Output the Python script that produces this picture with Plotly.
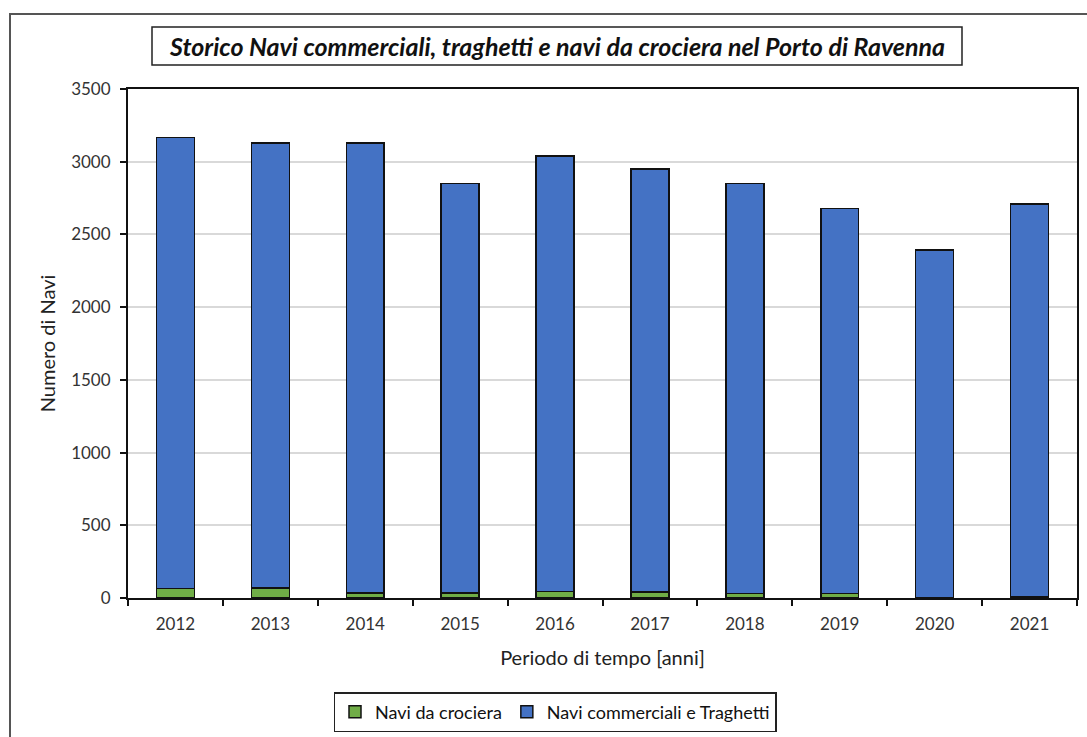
import plotly.graph_objects as go

years = ["2012", "2013", "2014", "2015", "2016", "2017", "2018", "2019", "2020", "2021"]
crociera = [65, 70, 35, 35, 45, 40, 30, 30, 0, 8]
commerciali = [3100, 3060, 3095, 2815, 2995, 2910, 2820, 2650, 2393, 2700]

W, H = 1087, 737
L, R, T, B = 128, 1077, 89, 598

fig = go.Figure()
fig.add_trace(go.Bar(x=years, y=crociera, name="Navi da crociera",
                     marker=dict(color="#70AD47", line=dict(color="#111111", width=1.5))))
fig.add_trace(go.Bar(x=years, y=commerciali, name="Navi commerciali e Traghetti",
                     marker=dict(color="#4472C4", line=dict(color="#111111", width=1.5))))

font = "Lato, 'Open Sans', sans-serif"
fig.update_layout(
    width=W, height=H,
    margin=dict(l=L, r=W - R, t=T, b=H - B),
    barmode="stack", bargap=0.6,
    plot_bgcolor="white", paper_bgcolor="white",
    font=dict(family=font, size=17, color="#404040"),
    showlegend=True,
    legend=dict(orientation="h", xanchor="center", yanchor="top",
                xref="container", yref="container",
                x=555 / W, y=1 - 692 / H,
                bordercolor="#222222", borderwidth=1.5,
                font=dict(size=18, color="#111111"),
                itemclick=False, traceorder="normal"),
    xaxis=dict(type="category", showline=True, linecolor="#111111", linewidth=2,
               mirror=True, ticks="outside", tickson="boundaries", ticklen=6,
               tickcolor="#111111", tickwidth=2, automargin=False,
               ticklabelstandoff=10,
               title=dict(text="Periodo di tempo [anni]", font=dict(size=20, color="#222222"), standoff=18),
               tickfont=dict(size=17, color="#333333")),
    yaxis=dict(range=[0, 3500], dtick=500, showline=True, linecolor="#111111", linewidth=2,
               mirror=True, ticks="outside", ticklen=6, tickcolor="#111111", tickwidth=2,
               showgrid=True, gridcolor="#d9d9d9", gridwidth=1.5, zeroline=False,
               automargin=False, ticklabelstandoff=6,
               title=dict(text="Numero di Navi", font=dict(size=20, color="#222222"), standoff=10),
               tickfont=dict(size=17, color="#333333")),
)

# outer chart border
fig.add_shape(type="rect", xref="paper", yref="paper",
              x0=(10 - L) / (R - L), x1=(1100 - L) / (R - L),
              y0=-(750 - B) / (B - T), y1=(B - 14) / (B - T),
              line=dict(color="#555555", width=2), fillcolor="rgba(0,0,0,0)", layer="below")
# title box
fig.add_shape(type="rect", xref="paper", yref="paper",
              x0=(152 - L) / (R - L), x1=(962 - L) / (R - L),
              y0=(B - 65) / (B - T), y1=(B - 27) / (B - T),
              line=dict(color="#222222", width=1.5), fillcolor="white")
fig.add_annotation(xref="paper", yref="paper", x=(557 - L) / (R - L), y=(B - 46) / (B - T),
                   text="<b><i>Storico Navi commerciali, traghetti e navi da crociera nel Porto di Ravenna</i></b>",
                   showarrow=False, xanchor="center", yanchor="middle",
                   font=dict(family=font, size=25, color="#111111"))

fig.write_html("out.html", config={"displayModeBar": False},
               post_script="document.body.style.margin='0';document.body.style.overflow='hidden';")
